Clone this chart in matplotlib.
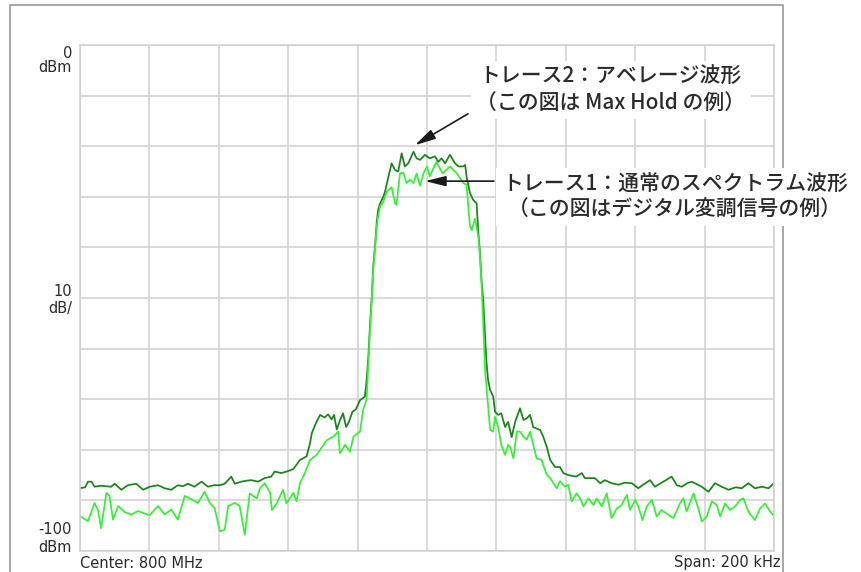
import matplotlib
matplotlib.use("Agg")
import matplotlib.pyplot as plt
from matplotlib.lines import Line2D

# ============== data (read from the screen capture) ==============
# 周波数オフセット [kHz]（中心 800 MHz、スパン 200 kHz）とレベル [dBm]

# トレース2：Max Hold（濃い緑）
TRACE2_FREQ = [-100, -98.5, -97.7, -96.7, -95.8, -94.0, -91.0, -90.0, -88.1, -86.2,
               -83.8, -81.8, -79.9, -77.5, -75.6, -73.7, -71.8, -70.3, -68.9, -67.0,
               -65.0, -63.1, -61.5, -59.7, -58.3, -56.4, -55.4, -53.5, -52.0, -50.6,
               -48.7, -46.8, -44.9, -43.9, -42.0, -40.0, -38.5, -36.6, -34.7, -33.7,
               -33.2, -31.8, -30.8, -29.5, -28.5, -27.5, -26.8, -26.0, -25.0, -24.2,
               -23.3, -22.5, -21.5, -20.5, -19.3, -17.9, -17.4, -16.9, -16.4, -15.9,
               -15.5, -15.0, -14.5, -14.1, -13.5, -12.6, -12.1, -11.1, -10.2, -9.2,
               -8.3, -7.3, -6.4, -5.4, -3.9, -3.0, -2.0, -0.6, 0.8, 2.3,
               3.2, 4.2, 5.2, 6.6, 8.1, 9.1, 10.5, 11.0, 11.4, 12.4,
               13.3, 14.3, 14.8, 15.2, 15.7, 16.2, 16.7, 17.1, 17.6, 18.2,
               19.1, 19.6, 20.5, 21.4, 22.5, 23.4, 24.4, 25.4, 26.8, 27.8,
               28.7, 29.7, 30.6, 31.6, 32.6, 33.5, 34.5, 35.5, 36.9, 38.3,
               39.3, 40.7, 43.0, 44.6, 45.5, 48.4, 49.9, 51.3, 53.2, 55.2,
               57.0, 59.0, 60.9, 62.5, 64.3, 65.7, 67.6, 70.5, 72.0, 73.4,
               75.0, 76.3, 79.2, 81.1, 83.0, 84.9, 86.9, 89.0, 90.7, 92.6,
               94.5, 96.5, 98.4, 100]
TRACE2_DBM = [-87.6, -87.4, -86.3, -86.3, -87.3, -87.1, -87.3, -86.7, -87.9, -87.0,
              -86.7, -87.9, -87.3, -87.0, -87.6, -87.9, -87.0, -87.2, -86.7, -87.3,
              -86.3, -87.3, -87.0, -87.0, -86.7, -85.3, -86.7, -86.3, -86.1, -86.0,
              -86.3, -85.6, -85.3, -84.3, -84.6, -84.2, -83.8, -82.0, -81.3, -78.7,
              -76.7, -74.4, -73.1, -73.6, -73.0, -74.0, -73.1, -76.0, -74.0, -72.8,
              -75.5, -74.5, -72.5, -72.0, -70.2, -69.5, -66.2, -61.6, -55.0, -49.7,
              -43.8, -39.9, -35.2, -32.6, -31.3, -30.0, -29.0, -26.0, -23.4, -24.7,
              -25.0, -21.4, -24.0, -23.4, -21.1, -22.4, -22.7, -21.7, -22.4, -22.0,
              -23.1, -22.4, -23.4, -21.7, -23.4, -24.0, -24.0, -23.7, -26.0, -29.3,
              -30.6, -31.3, -37.2, -40.5, -46.4, -50.4, -57.0, -62.3, -66.2, -68.2,
              -69.5, -72.5, -73.1, -72.8, -75.5, -74.5, -77.5, -74.5, -71.8, -74.1,
              -73.8, -73.1, -75.5, -75.8, -76.1, -77.4, -79.4, -82.0, -83.4, -83.4,
              -84.6, -85.0, -85.3, -84.6, -85.6, -85.6, -86.6, -86.0, -86.6, -86.9,
              -86.5, -86.6, -87.6, -86.8, -86.0, -87.3, -86.5, -85.3, -87.0, -87.3,
              -86.6, -86.3, -87.3, -88.3, -86.6, -87.3, -87.9, -87.4, -87.6, -86.6,
              -87.6, -87.3, -87.6, -86.6]

# トレース1：通常のスペクトラム波形（明るい緑）
TRACE1_FREQ = [-100, -97.7, -95.8, -94.8, -93.9, -92.4, -91.5, -90.5, -89.0, -87.1,
               -85.2, -83.3, -81.4, -79.9, -77.5, -75.6, -73.7, -71.8, -69.8, -67.9,
               -66.0, -64.1, -62.6, -61.2, -59.7, -58.3, -57.3, -55.4, -54.0, -52.5,
               -51.1, -49.1, -48.1, -46.8, -45.2, -44.7, -43.3, -41.5, -40.5, -38.5,
               -37.6, -36.6, -35.2, -33.7, -31.8, -28.9, -27.0, -25.6, -25.1, -23.6,
               -22.2, -21.2, -19.3, -18.4, -17.4, -16.9, -16.4, -15.9, -15.5, -15.0,
               -14.5, -14.0, -13.5, -12.6, -11.6, -10.2, -9.2, -8.8, -7.8, -6.8,
               -5.9, -4.9, -3.9, -3.0, -2.0, -1.0, 0.0, 0.8, 1.8, 2.7,
               4.5, 6.6, 8.6, 10.5, 11.4, 11.9, 12.4, 12.9, 13.8, 14.8,
               15.2, 15.7, 16.2, 16.7, 17.2, 17.7, 18.2, 19.1, 19.6, 20.5,
               21.4, 22.5, 23.4, 24.0, 24.9, 25.9, 26.8, 27.8, 28.7, 29.7,
               30.6, 31.6, 33.0, 34.5, 35.5, 37.4, 38.3, 39.8, 40.7, 41.7,
               43.1, 44.1, 45.1, 46.5, 48.0, 48.9, 50.4, 51.8, 53.2, 54.7,
               56.1, 57.6, 58.5, 60.0, 60.9, 62.1, 63.3, 64.8, 66.2, 67.6,
               69.6, 71.0, 72.9, 73.9, 74.8, 76.8, 78.2, 79.2, 80.6, 82.1,
               83.5, 84.5, 85.9, 87.3, 88.8, 90.2, 91.2, 92.6, 94.5, 96.0,
               97.4, 98.9, 100]
TRACE1_DBM = [-93.1, -94.1, -90.5, -92.0, -95.5, -88.5, -89.1, -93.8, -91.1, -92.3,
              -92.8, -92.1, -92.6, -92.9, -91.1, -92.8, -91.8, -93.8, -89.1, -89.8,
              -90.5, -88.3, -90.5, -91.5, -96.1, -95.8, -91.1, -90.5, -91.1, -96.8,
              -88.6, -89.6, -87.6, -86.6, -88.5, -91.9, -90.6, -87.9, -90.6, -88.5,
              -90.2, -86.6, -84.6, -82.0, -81.0, -78.1, -77.4, -76.4, -80.7, -79.0,
              -80.4, -77.4, -76.4, -72.1, -70.0, -63.0, -56.0, -50.0, -44.5, -40.5,
              -36.0, -33.5, -31.9, -31.0, -29.0, -28.1, -31.3, -31.6, -25.4, -25.2,
              -27.3, -26.6, -27.3, -25.4, -27.8, -25.4, -24.0, -26.0, -24.4, -23.1,
              -25.4, -24.0, -25.4, -27.3, -27.6, -31.9, -35.9, -36.6, -34.3, -37.9,
              -41.2, -47.0, -55.0, -64.0, -68.0, -72.1, -76.1, -76.4, -73.5, -75.5,
              -79.0, -81.0, -79.0, -79.5, -81.7, -76.4, -76.4, -77.4, -78.0, -76.4,
              -79.0, -81.7, -82.0, -84.9, -85.6, -87.6, -86.2, -87.3, -86.9, -90.2,
              -88.6, -89.6, -91.2, -89.6, -90.9, -89.6, -91.2, -88.6, -93.5, -91.6,
              -90.9, -88.9, -91.9, -89.9, -91.2, -93.9, -91.2, -89.9, -93.2, -91.9,
              -92.9, -93.5, -90.6, -89.6, -92.2, -88.6, -91.6, -94.2, -93.2, -90.2,
              -90.9, -93.2, -90.6, -91.9, -91.2, -89.9, -89.6, -92.2, -93.9, -91.6,
              -90.6, -92.2, -93.1]

# ============== style ==============
TRACE2_COLOR = "#158515"
TRACE1_COLOR = "#2ef52e"
GRID_COLOR = "#cfcfcf"
FRAME_COLOR = "#a0a0a0"
TEXT_COLOR = "#2a2a2a"
JP_FONT = ["Noto Sans CJK JP", "DejaVu Sans"]

W, H = 861, 572


def px(x, y):
    # 画像ピクセル座標 -> figure 座標
    return x / W, 1 - y / H


fig = plt.figure(figsize=(W / 100, H / 100), dpi=100)
ax = fig.add_axes([80 / W, 1 - 551 / H, (774 - 80) / W, (551 - 45) / H])

ax.plot(TRACE2_FREQ, TRACE2_DBM, color=TRACE2_COLOR, lw=1.25)
ax.plot(TRACE1_FREQ, TRACE1_DBM, color=TRACE1_COLOR, lw=1.25)

ax.set_xlim(-100, 100)
ax.set_ylim(-100, 0)
ax.set_xticks(range(-100, 101, 20))
ax.set_yticks(range(-100, 1, 10))
ax.tick_params(length=0, labelbottom=False, labelleft=False)
ax.grid(True, color=GRID_COLOR, lw=1.1)
ax.set_axisbelow(True)
for s in ax.spines.values():
    s.set_color(GRID_COLOR)
    s.set_linewidth(1.1)

# 外枠（下は開いている）
fig.add_artist(Line2D([10 / W, 10 / W, 783 / W, 783 / W], [0, 1 - 5 / H, 1 - 5 / H, 0],
                      color=FRAME_COLOR, lw=1.3))

# 目盛りラベル
lbl = dict(ha="right", va="center", fontsize=10.5, color=TEXT_COLOR)
fig.text(*px(72, 53), "0", **lbl)
fig.text(*px(72, 68), "dBm", **lbl)
fig.text(*px(72, 292), "10", **lbl)
fig.text(*px(72, 309), "dB/", **lbl)
fig.text(*px(72, 530), "-100", **lbl)
fig.text(*px(72, 547), "dBm", **lbl)
fig.text(*px(80, 563), "Center: 800 MHz", ha="left", va="center", fontsize=10.5, color=TEXT_COLOR)
fig.text(*px(781, 563), "Span: 200 kHz", ha="right", va="center", fontsize=10.5, color=TEXT_COLOR)

# 注釈
box = dict(facecolor="white", edgecolor="none", pad=4)
fig.text(*px(611, 90), "トレース2：アベレージ波形\n（この図は Max Hold の例）",
         ha="center", va="center", fontsize=15, family=JP_FONT, weight="medium",
         color=TEXT_COLOR, linespacing=1.2, bbox=box)
fig.text(*px(675, 197), "トレース1：通常のスペクトラム波形\n（この図はデジタル変調信号の例）",
         ha="center", va="center", fontsize=15, family=JP_FONT, weight="medium",
         color=TEXT_COLOR, linespacing=1.2, bbox=box)

arrow = dict(arrowstyle="-|>,head_length=0.9,head_width=0.22", color="#1a1a1a", lw=1.2,
             shrinkA=0, shrinkB=0, mutation_scale=14)
ax.annotate("", xy=(-3.5, -19.8), xytext=(11.8, -13.6), arrowprops=arrow, annotation_clip=False)
ax.annotate("", xy=(-0.6, -26.9), xytext=(19.3, -26.9), arrowprops=arrow, annotation_clip=False)

fig.savefig("out.png", dpi=100)
